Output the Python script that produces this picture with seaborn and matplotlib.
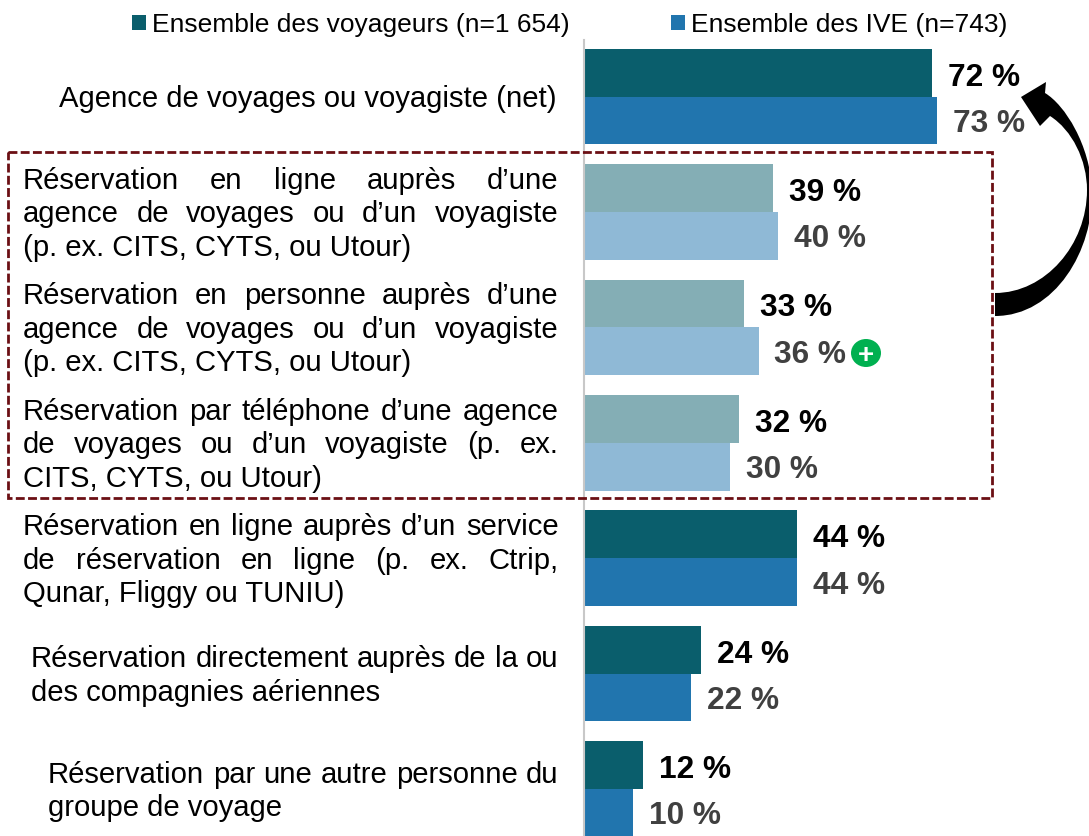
import matplotlib
matplotlib.use("Agg")
import pandas as pd
import seaborn as sns
import matplotlib.pyplot as plt
from matplotlib.patches import PathPatch, Rectangle, Ellipse
from matplotlib.path import Path
from matplotlib.transforms import Affine2D

lines = [
    ["Agence de voyages ou voyagiste (net)"],
    ["Réservation en ligne auprès d’une", "agence de voyages ou d’un voyagiste", "(p. ex. CITS, CYTS, ou Utour)"],
    ["Réservation en personne auprès d’une", "agence de voyages ou d’un voyagiste", "(p. ex. CITS, CYTS, ou Utour)"],
    ["Réservation par téléphone d’une agence", "de voyages ou d’un voyagiste (p. ex.", "CITS, CYTS, ou Utour)"],
    ["Réservation en ligne auprès d’un service", "de réservation en ligne (p. ex. Ctrip,", "Qunar, Fliggy ou TUNIU)"],
    ["Réservation directement auprès de la ou", "des compagnies aériennes"],
    ["Réservation par une autre personne du", "groupe de voyage"],
]
categories = [" ".join(l) for l in lines]
voyageurs = [72, 39, 33, 32, 44, 24, 12]
ive = [73, 40, 36, 30, 44, 22, 10]
groupes = ["Ensemble des voyageurs (n=1 654)", "Ensemble des IVE (n=743)"]
couleurs = ["#0A5E6C", "#2175AE"]
attenues = [1, 2, 3]

W, H = 1089, 836
plt.rcParams["font.family"] = ["Liberation Sans", "DejaVu Sans"]

df = pd.DataFrame({
    "cat": categories * 2,
    "val": voyageurs + ive,
    "groupe": [groupes[0]] * 7 + [groupes[1]] * 7,
})

fig = plt.figure(figsize=(W / 100, H / 100), dpi=100)
ax = fig.add_axes([0, 0, 1, 1])
sns.barplot(data=df, y="cat", x="val", hue="groupe", palette=couleurs, width=0.83, gap=0,
            saturation=1, orient="h", ax=ax)

# axes cover the whole figure, bar zero sits at x=585px
ax.set_xlim(-585 / 4.82, (W - 585) / 4.82)
ax.set_ylim((H - 96.6) / 115.4, -96.6 / 115.4)
ax.set_xticks([])
ax.set_yticks([])
ax.set_xlabel("")
ax.set_ylabel("")
sns.despine(ax=ax, left=True, bottom=True)

for c, col, dy in zip(ax.containers, ["black", "#404040"], [-3.5, -2.5]):
    for i in attenues:
        c.patches[i].set_alpha(0.5)
    labs = ax.bar_label(c, labels=[f"{int(v)} %" for v in c.datavalues], padding=12,
                        fontsize=22.8, fontweight="bold", color=col)
    for t in labs:
        t.xyann = (11.5, dy)

ax.legend(ncols=2, loc="upper left", bbox_to_anchor=(132 / W, 1 - 13 / H), frameon=False, fontsize=19,
          handlelength=0.52, handleheight=0.52, handletextpad=0.24, columnspacing=3.85, borderpad=0, borderaxespad=0)

# pixel coordinates, origin top left
px = Affine2D().scale(1 / W, -1 / H).translate(0, 1) + fig.transFigure

left_edges = [59, 23, 23, 23, 23, 31, 48]
right_edge = 558.5
fs = 21.1
renderer = fig.canvas.get_renderer()
for i, block in enumerate(lines):
    yc = 96 + 115.4 * i
    for k, line in enumerate(block):
        y = yc + (k - (len(block) - 1) / 2) * 33.6
        x0 = left_edges[i]
        if k == len(block) - 1:
            ax.text(x0, y, line, transform=px, fontsize=fs, va="center_baseline", ha="left")
            continue
        # justified lines
        words = [ax.text(0, y, w, transform=px, fontsize=fs, va="center_baseline", ha="left") for w in line.split(" ")]
        widths = [t.get_window_extent(renderer).width for t in words]
        space = (right_edge - x0 - sum(widths)) / (len(words) - 1)
        x = x0
        for t, w in zip(words, widths):
            t.set_x(x)
            x += w + space

# axis line
ax.plot([584, 584], [40, H], transform=px, color="#C8C8C8", lw=1.5, clip_on=False)

# dashed frame
ax.add_patch(Rectangle((8, 152), 984, 346, transform=px, fill=False, edgecolor="#6B0F14", lw=2,
                       linestyle=(0, (3.2, 1.2)), zorder=5))

# curved arrow
verts = [(995, 316), (1055, 316), (1094, 250), (1092, 190), (1090, 145), (1065, 105), (1045, 93),
         (1046, 82), (1021, 97), (1040, 126), (1050, 116),
         (1072, 130), (1087, 160), (1087, 190), (1087, 245), (1045, 293), (995, 293), (995, 316)]
codes = [Path.MOVETO] + [Path.CURVE4] * 6 + [Path.LINETO] * 4 + [Path.CURVE4] * 6 + [Path.CLOSEPOLY]
ax.add_patch(PathPatch(Path(verts, codes), transform=px, facecolor="black", edgecolor="none", zorder=6, clip_on=False))

# green plus badge
ax.add_patch(Ellipse((866, 353), 30, 28, transform=px, facecolor="#00B050", edgecolor="none", zorder=6))
ax.text(866, 353, "+", transform=px, color="white", fontsize=20, fontweight="bold", ha="center", va="center_baseline", zorder=7)

fig.savefig("out.png", dpi=100)
